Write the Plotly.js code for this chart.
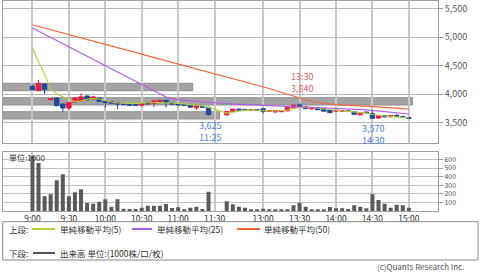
<!DOCTYPE html>
<html><head><meta charset="utf-8">
<script src="https://cdn.plot.ly/plotly-3.0.1.min.js"></script>
<style>html,body{margin:0;padding:0;background:#fff}#chart{width:480px;height:272px}</style>
</head><body><div id="chart"></div>
<script>
// ---- data ----
const times = ["9:00","9:05","9:10","9:15","9:20","9:25","9:30","9:35","9:40","9:45","9:50","9:55",
 "10:00","10:05","10:10","10:15","10:20","10:25","10:30","10:35","10:40","10:45","10:50","10:55",
 "11:00","11:05","11:10","11:15","11:20","11:25",
 "12:30","12:35","12:40","12:45","12:50","12:55","13:00","13:05","13:10","13:15","13:20","13:25",
 "13:30","13:35","13:40","13:45","13:50","13:55","14:00","14:05","14:10","14:15","14:20","14:25",
 "14:30","14:35","14:40","14:45","14:50","14:55","15:00"];
const openP = [4140,4065,4180,3905,3935,3830,3760,3865,3885,3970,3915,3935,
 3880,3870,3850,3835,3825,3820,3810,3855,3845,3870,3895,3850,
 3835,3820,3810,3765,3790,3775,
 3640,3695,3740,3735,3720,3730,3745,3700,3690,3695,3710,3760,
 3815,3780,3745,3755,3745,3725,3705,3705,3710,3695,3640,3690,
 3665,3585,3630,3605,3630,3610,3590];
const highP = [4170,4255,4190,3930,3940,3835,3860,3945,4015,3975,3965,3940,
 3885,3875,3855,3840,3830,3825,3845,3860,3890,3900,3900,3855,
 3840,3825,3815,3805,3795,3780,
 3705,3745,3750,3740,3735,3735,3750,3720,3715,3710,3775,3815,
 3840,3785,3770,3760,3750,3730,3725,3715,3715,3700,3690,3695,
 3705,3630,3635,3630,3660,3615,3595];
const lowP = [4075,4060,4005,3900,3795,3690,3730,3860,3880,3895,3910,3870,
 3760,3840,3740,3815,3805,3805,3785,3825,3775,3865,3770,3825,
 3810,3805,3770,3725,3770,3625,
 3630,3690,3720,3720,3715,3715,3665,3695,3685,3690,3705,3755,
 3765,3745,3740,3725,3700,3665,3700,3700,3695,3645,3635,3670,
 3570,3575,3600,3600,3605,3590,3575];
const closeP = [4080,4190,4090,3925,3800,3760,3855,3935,3955,3900,3955,3875,
 3855,3845,3830,3820,3810,3810,3840,3830,3885,3895,3860,3830,
 3815,3808,3775,3800,3775,3645,
 3700,3740,3725,3725,3730,3720,3700,3715,3710,3705,3770,3810,
 3770,3750,3765,3730,3705,3680,3720,3712,3700,3650,3680,3675,
 3580,3625,3605,3625,3610,3595,3580];
const volume = [640,558,171,194,357,427,171,217,252,93,85,109,
 136,50,136,27,23,23,39,62,62,62,81,35,
 43,19,39,50,23,225,
 112,78,50,39,19,19,27,19,19,19,19,66,
 97,50,19,19,19,46,31,31,23,66,50,31,
 194,128,85,39,74,66,39];
const ma5 = [4810,4560,4350,4095,4005,3953,3910,3875,3883,3910,3927,3918,
 3890,3865,3848,3840,3840,3840,3848,3848,3857,3857,3857,3848,
 3840,3830,3822,3812,3800,3770,
 3672,3690,3708,3717,3725,3717,3708,3708,3708,3717,3725,3748,
 3770,3778,3772,3760,3743,3729,3720,3708,3702,3690,3681,3672,
 3646,3632,3620,3611,3603,3594,3585];
const ma25 = [5160,5105,5050,4994,4940,4884,4828,4774,4718,4663,4607,4551,
 4497,4441,4387,4331,4275,4221,4165,4110,4054,4000,3953,3921,
 3904,3892,3883,3874,3865,3857,
 3839,3830,3825,3820,3812,3808,3802,3795,3790,3786,3783,3781,
 3781,3778,3774,3771,3767,3764,3760,3755,3750,3743,3736,3729,
 3720,3711,3702,3694,3681,3669,3655];
const ma50 = [5218,5190,5162,5133,5104,5075,5047,5018,4990,4961,4932,4904,
 4875,4845,4818,4788,4758,4730,4702,4672,4644,4614,4586,4557,
 4528,4499,4471,4443,4413,4385,
 4303,4275,4247,4215,4190,4163,4136,4101,4066,4031,4000,3970,
 3939,3904,3879,3860,3842,3830,3821,3812,3807,3802,3797,3792,
 3786,3781,3776,3769,3760,3750,3738];
const tickLabels = ["9:00","9:30","10:00","10:30","11:00","11:30","13:00","13:30","14:00","14:30","15:00"];
const priceTicks = [3500,4000,4500,5000,5500];
const volTicks = [100,200,300,400,500,600];
const bandLow = [4063,3813,3568];
const bandHigh = [4192,3940,3695];
const bandEnd = ["11:12","15:03","11:34"];
const marks = [
  {time:"13:30", price:3840, text:"13:30<br>3,840", kind:"high"},
  {time:"11:25", price:3625, text:"3,625<br>11:25", kind:"low"},
  {time:"14:30", price:3570, text:"3,570<br>14:30", kind:"low"}
];
const legendUpper = ["単純移動平均(5)","単純移動平均(25)","単純移動平均(50)"];
const legendLower = "出来高 単位:(1000株/口/枚)";

// ---- mapping (lunch break compressed) ----
function toSlot(t){ const [h,m]=t.split(':').map(Number); let s=((h-9)*60+m)/5; if(h*60+m>=12*60+30) s-=10; return s; }
const xs = times.map(toSlot);
const W=480,H=272;
const px = v=>v/W, py = v=>1-v/H;
const XR=[-4.9,66.8];
const FONT='"Noto Sans CJK JP","Noto Sans",sans-serif';
const RED='#f0193c', BLUE='#1e46a0';
const C5='#b4d23c', C25='#b45aeb', C50='#f5643c';

const traces = [
 {type:'candlestick', x:xs, open:openP, high:highP, low:lowP, close:closeP, xaxis:'x', yaxis:'y',
  increasing:{line:{color:RED,width:1}, fillcolor:RED}, decreasing:{line:{color:BLUE,width:1}, fillcolor:BLUE},
  hoverinfo:'skip'},
 {type:'scatter', mode:'lines', x:xs, y:ma5, line:{color:C5,width:1.2}, xaxis:'x', yaxis:'y', hoverinfo:'skip'},
 {type:'scatter', mode:'lines', x:xs, y:ma25, line:{color:C25,width:1.2}, xaxis:'x', yaxis:'y', hoverinfo:'skip'},
 {type:'scatter', mode:'lines', x:xs, y:ma50, line:{color:C50,width:1.2}, xaxis:'x', yaxis:'y', hoverinfo:'skip'},
 {type:'bar', x:xs, y:volume, width:0.66, marker:{color:'#5a5a5a'}, xaxis:'x2', yaxis:'y2', hoverinfo:'skip'}
];

const shapes = [];
bandLow.forEach((lo,i)=>shapes.push({type:'rect', xref:'x', yref:'y', x0:XR[0], x1:toSlot(bandEnd[i]), y0:lo, y1:bandHigh[i],
  fillcolor:'#a4a4a4', line:{color:'#8e8e8e',width:1}, layer:'below'}));
// legend box
shapes.push({type:'rect', xref:'paper', yref:'paper', x0:px(2.7), x1:px(478), y0:py(260), y1:py(221.7), line:{color:'#888',width:1}, fillcolor:'rgba(0,0,0,0)'});
const segs=[[32,55,229,C5],[132,152,229,C25],[237,260,229,C50],[33,55,253,'#555']];
segs.forEach(s=>shapes.push({type:'line', xref:'paper', yref:'paper', x0:px(s[0]), x1:px(s[1]), y0:py(s[2]), y1:py(s[2]), line:{color:s[3],width:2}}));

const annotations = [];
marks.forEach(m=>{
  const hi = m.kind==='high';
  annotations.push({xref:'x', yref:'y', x:toSlot(m.time), y:m.price, text:m.text, showarrow:false,
    yanchor: hi?'bottom':'top', yshift: hi?6:-1, xshift: hi?2:1,
    font:{family:FONT, size:9, color: hi?'#e06464':'#4a80e8'}});
});
const lt = (x,y,text,anchor,size,color)=>annotations.push({xref:'paper',yref:'paper',x:px(x),y:py(y),text:text,showarrow:false,
  xanchor:anchor||'left', yanchor:'middle', font:{family:FONT,size:size||8.5,color:color||'#333'}});
lt(7,229,'上段:');
lt(58,229,legendUpper[0]);
lt(155,229,legendUpper[1]);
lt(262,229,legendUpper[2]);
lt(7,253,'下段:');
lt(58,253,legendLower);
lt(7,157,'単位:1000',null,8);
lt(466,266.5,'(c)Quants Research Inc.','right',8,'#555');

const xCommon = {range:XR, domain:[px(2.7),px(438)], tickvals:tickLabels.map(toSlot), ticktext:tickLabels,
  showgrid:true, gridcolor:'#c8c8c8', gridwidth:2, zeroline:false, showline:true, mirror:true, linecolor:'#a0a0a0',
  fixedrange:true, ticks:''};
const layout = {
  width:W, height:H, margin:{l:0,r:0,t:0,b:0}, paper_bgcolor:'#fff', plot_bgcolor:'#fff', showlegend:false,
  boxgap:0.15, boxgroupgap:0.15,
  font:{family:FONT, size:9, color:'#333'},
  xaxis:Object.assign({}, xCommon, {anchor:'y', showticklabels:false, rangeslider:{visible:false}}),
  xaxis2:Object.assign({}, xCommon, {anchor:'y2', showticklabels:true, tickfont:{family:FONT,size:8.5,color:'#333'}}),
  yaxis:{domain:[py(142.7),py(1)], range:[3153,5633], side:'right', anchor:'x', tickvals:priceTicks, tickformat:',',
    ticks:'outside', ticklen:4, tickcolor:'#999', showgrid:true, gridcolor:'#b8b8b8', gridwidth:1, zeroline:false,
    showline:true, mirror:true, linecolor:'#a0a0a0', tickfont:{family:FONT,size:9,color:'#555'}, fixedrange:true},
  yaxis2:{domain:[py(211),py(151.7)], range:[0,690], side:'right', anchor:'x2', tickvals:volTicks,
    ticks:'outside', ticklen:4, tickcolor:'#999', showgrid:true, gridcolor:'#c0c0c0', gridwidth:1, zeroline:false,
    showline:true, mirror:true, linecolor:'#a0a0a0', tickfont:{family:FONT,size:7,color:'#555'}, fixedrange:true},
  shapes:shapes, annotations:annotations
};
Plotly.newPlot('chart', traces, layout, {staticPlot:true, displayModeBar:false});
</script></body></html>
